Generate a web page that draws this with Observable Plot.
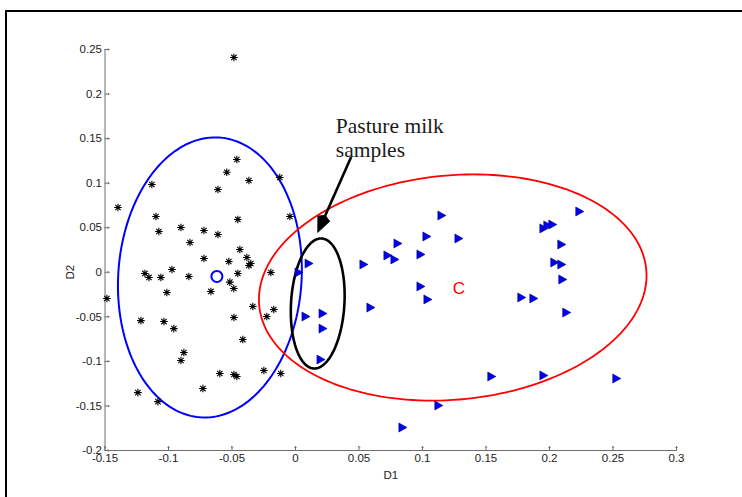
<!DOCTYPE html>
<html>
<head>
<meta charset="utf-8">
<script src="https://cdn.jsdelivr.net/npm/d3@7"></script>
<script src="https://cdn.jsdelivr.net/npm/@observablehq/plot@0.6"></script>
<style>
  html, body { margin: 0; padding: 0; background: #fff; }
  #wrap { position: relative; width: 742px; height: 497px; overflow: hidden; background: #fff; }
  #frame { position: absolute; left: 5px; top: 10px; width: 800px; height: 600px; border: 2px solid #000; box-sizing: border-box; }
  #chart { position: absolute; left: 0; top: 0; }
  #chart svg { background: transparent !important; }
</style>
</head>
<body>
<div id="wrap"><div id="frame"></div><div id="chart"></div></div>
<script>
// ---- data ----
const asteriskX = [-0.0485,-0.0462,-0.0541,-0.0367,-0.0611,-0.1131,-0.1398,-0.0124,-0.0044,-0.0454,-0.1099,-0.1076,-0.0902,-0.0721,-0.0611,-0.0831,-0.0438,-0.0721,-0.0383,-0.0525,-0.0352,-0.0367,-0.0973,-0.1186,-0.1154,-0.1060,-0.0840,-0.0454,-0.0194,-0.0517,-0.0486,-0.0666,-0.1013,-0.1485,-0.0336,-0.0171,-0.0226,-0.0485,-0.1217,-0.1036,-0.0958,-0.0415,-0.0879,-0.0902,-0.0249,-0.0116,-0.0596,-0.0485,-0.0462,-0.0729,-0.1241,-0.1083];
const asteriskY = [0.2411,0.1266,0.1123,0.1030,0.0929,0.0985,0.0727,0.1064,0.0626,0.0593,0.0626,0.0458,0.0503,0.0469,0.0424,0.0334,0.0256,0.0155,0.0166,0.0121,0.0099,0.0076,0.0031,-0.0013,-0.0058,-0.0058,-0.0047,-0.0013,-0.0002,-0.0110,-0.0182,-0.0215,-0.0227,-0.0294,-0.0384,-0.0418,-0.0497,-0.0508,-0.0542,-0.0553,-0.0632,-0.0755,-0.0901,-0.0990,-0.1102,-0.1136,-0.1136,-0.1147,-0.1170,-0.1305,-0.1350,-0.1451];

const triangleX = [0.0105,0.0026,0.0081,0.0215,0.0215,0.0199,0.0537,0.0592,0.0726,0.0781,0.0805,0.0986,0.1033,0.1151,0.0986,0.1041,0.1285,0.0844,0.1127,0.1544,0.1954,0.1985,0.2024,0.2237,0.2095,0.2040,0.2095,0.2103,0.1780,0.1875,0.2134,0.1954,0.2528];
const triangleY = [0.0099,-0.0002,-0.0497,-0.0463,-0.0632,-0.0980,0.0088,-0.0396,0.0189,0.0144,0.0323,0.0200,0.0402,0.0637,-0.0159,-0.0305,0.0379,-0.1742,-0.1495,-0.1170,0.0492,0.0525,0.0536,0.0682,0.0312,0.0110,0.0088,-0.0081,-0.0283,-0.0294,-0.0452,-0.1158,-0.1192];

// ellipses: x = cx + a cos t ; y = cy + c cos t + d sin t
const ellipseNames = ["O", "C", "Pasture"];
const ellipseCX = [-0.0674, 0.1238, 0.0175];
const ellipseCY = [-0.0058, -0.0171, -0.0350];
const ellipseA  = [0.0724, 0.1526, 0.0212];
const ellipseC  = [0.0090, 0.0135, 0.0090];
const ellipseD  = [0.1569, 0.1262, 0.0724];

// group markers
const centerLabelO = {x: -0.0619, y: -0.0047};
const centerLabelC = {x: 0.1286, y: -0.0182, text: "C"};

// annotation
const annotationLines = ["Pasture milk", "samples"];
const annotationX = 0.0317;
const annotationY = [0.1636, 0.1367];
const arrowFrom = {x: 0.0419, y: 0.1232};
const arrowTo = {x: 0.0175, y: 0.0447};

const xTicks = [-0.15,-0.1,-0.05,0,0.05,0.1,0.15,0.2,0.25,0.3];
const xTickLabels = ["-0.15","-0.1","-0.05","0","0.05","0.1","0.15","0.2","0.25","0.3"];
const yTicks = [-0.2,-0.15,-0.1,-0.05,0,0.05,0.1,0.15,0.2,0.25];
const yTickLabels = ["-0.2","-0.15","-0.1","-0.05","0","0.05","0.1","0.15","0.2","0.25"];
const xLabel = "D1";
const yLabel = "D2";

// ---- build ----
const asterisks = asteriskX.map((x, i) => ({x, y: asteriskY[i]}));
const triangles = triangleX.map((x, i) => ({x, y: triangleY[i]}));

function ellipsePoints(i) {
  const n = 180, pts = [];
  for (let k = 0; k <= n; k++) {
    const t = 2 * Math.PI * k / n;
    pts.push({x: ellipseCX[i] + ellipseA[i] * Math.cos(t),
              y: ellipseCY[i] + ellipseC[i] * Math.cos(t) + ellipseD[i] * Math.sin(t)});
  }
  return pts;
}

const starSymbol = {
  draw(ctx, size) {
    const r = Math.sqrt(size / Math.PI);
    const d = r * Math.SQRT1_2;
    ctx.moveTo(-r, 0); ctx.lineTo(r, 0);
    ctx.moveTo(0, -r); ctx.lineTo(0, r);
    ctx.moveTo(-d, -d); ctx.lineTo(d, d);
    ctx.moveTo(-d, d); ctx.lineTo(d, -d);
  }
};
const triRight = {
  draw(ctx, size) {
    const r = Math.sqrt(size / Math.PI);
    ctx.moveTo(-r * 0.85, -r);
    ctx.lineTo(r * 0.95, 0);
    ctx.lineTo(-r * 0.85, r);
    ctx.closePath();
  }
};

const axisColor = "#6e6e6e";
const textColor = "#222";
const ellipseStroke = ["#0000ff", "#ff0000", "#000000"];
const ellipseWidth = [2, 1.8, 2.6];

const layout = {
  width: 742,
  height: 497,
  marginLeft: 104.5,
  marginRight: 66,
  marginTop: 49,
  marginBottom: 47,
  x: {domain: [-0.15, 0.3]},
  y: {domain: [-0.2, 0.25]}
};

// first pass: obtain the scales to orient the arrowhead in screen space
const probe = Plot.plot({...layout, marks: [Plot.dot([arrowFrom, arrowTo], {x: "x", y: "y"})]});
const sx = probe.scale("x"), sy = probe.scale("y");
const p0 = [sx.apply(arrowFrom.x), sy.apply(arrowFrom.y)];
const p1 = [sx.apply(arrowTo.x), sy.apply(arrowTo.y)];
const len = Math.hypot(p1[0] - p0[0], p1[1] - p0[1]);
const ux = (p1[0] - p0[0]) / len, uy = (p1[1] - p0[1]) / len;
const headL = 15, headW = 6.5;
const arrowHead = {
  draw(ctx) {
    const bx = -headL * ux, by = -headL * uy;
    ctx.moveTo(0, 0);
    ctx.lineTo(bx - headW * uy, by + headW * ux);
    ctx.lineTo(bx - headL * 0.25 * ux, by - headL * 0.25 * uy);
    ctx.lineTo(bx + headW * uy, by - headW * ux);
    ctx.closePath();
  }
};

const chart = Plot.plot({
  ...layout,
  style: {fontFamily: "'Liberation Sans', Arial, sans-serif", fontSize: "11px", background: "transparent", color: textColor, overflow: "visible"},
  marks: [
    // axis lines
    Plot.ruleX([-0.15], {stroke: axisColor, strokeWidth: 1}),
    Plot.ruleY([-0.2], {stroke: axisColor, strokeWidth: 1}),
    // inward ticks
    Plot.vector(yTicks, {x: -0.15, y: d => d, length: 4, rotate: 90, anchor: "start", stroke: axisColor, strokeWidth: 1}),
    Plot.vector(xTicks, {x: d => d, y: -0.2, length: 4, rotate: 0, anchor: "start", stroke: axisColor, strokeWidth: 1}),
    Plot.axisX({ticks: xTicks, tickFormat: d => xTickLabels[xTicks.indexOf(d)], tickSize: 0, tickPadding: 3, label: null, fill: textColor, fontSize: 11.5}),
    Plot.axisY({ticks: yTicks, tickFormat: d => yTickLabels[yTicks.indexOf(d)], tickSize: 0, tickPadding: 3, label: null, fill: textColor, fontSize: 11.5}),
    Plot.text([xLabel], {x: (xTicks[0] + xTicks[xTicks.length - 1]) / 2, y: yTicks[0], text: d => d, dy: 25, fill: textColor, fontSize: 11.5}),
    Plot.text([yLabel], {x: xTicks[0], y: 0, text: d => d, dx: -35, rotate: -90, fill: textColor, fontSize: 11.5}),
    // ellipses
    ...ellipseNames.map((name, i) => Plot.line(ellipsePoints(i), {x: "x", y: "y", stroke: ellipseStroke[i], strokeWidth: ellipseWidth[i], curve: "linear"})),
    // points
    Plot.dot(asterisks, {x: "x", y: "y", symbol: starSymbol, r: 3.8, stroke: "#000", strokeWidth: 1.1, fill: "none"}),
    Plot.dot(triangles, {x: "x", y: "y", symbol: triRight, r: 4.5, fill: "#0000f0", stroke: "#00007a", strokeWidth: 0.6}),
    // group centres
    Plot.dot([centerLabelO], {x: "x", y: "y", r: 5.5, stroke: "#0000ff", strokeWidth: 2, fill: "none"}),
    Plot.text([centerLabelC], {x: "x", y: "y", text: "text", fill: "#ff0000", fontSize: 17, fontFamily: "'Liberation Sans', Arial, sans-serif"}),
    // annotation arrow
    Plot.link([{x1: arrowFrom.x, y1: arrowFrom.y, x2: arrowTo.x, y2: arrowTo.y}], {x1: "x1", y1: "y1", x2: "x2", y2: "y2", stroke: "#000", strokeWidth: 2.6, dx: -ux * 6, dy: -uy * 6}),
    Plot.dot([arrowTo], {x: "x", y: "y", symbol: arrowHead, r: 5, fill: "#000", stroke: "#000", strokeWidth: 0.8}),
    Plot.text(annotationLines, {x: annotationX, y: (d, i) => annotationY[i], text: d => d, textAnchor: "start", fill: "#1a1a1a", fontSize: 21.5, fontFamily: "'Liberation Serif', 'Times New Roman', serif"})
  ]
});
document.getElementById("chart").appendChild(chart);
</script>
</body>
</html>
